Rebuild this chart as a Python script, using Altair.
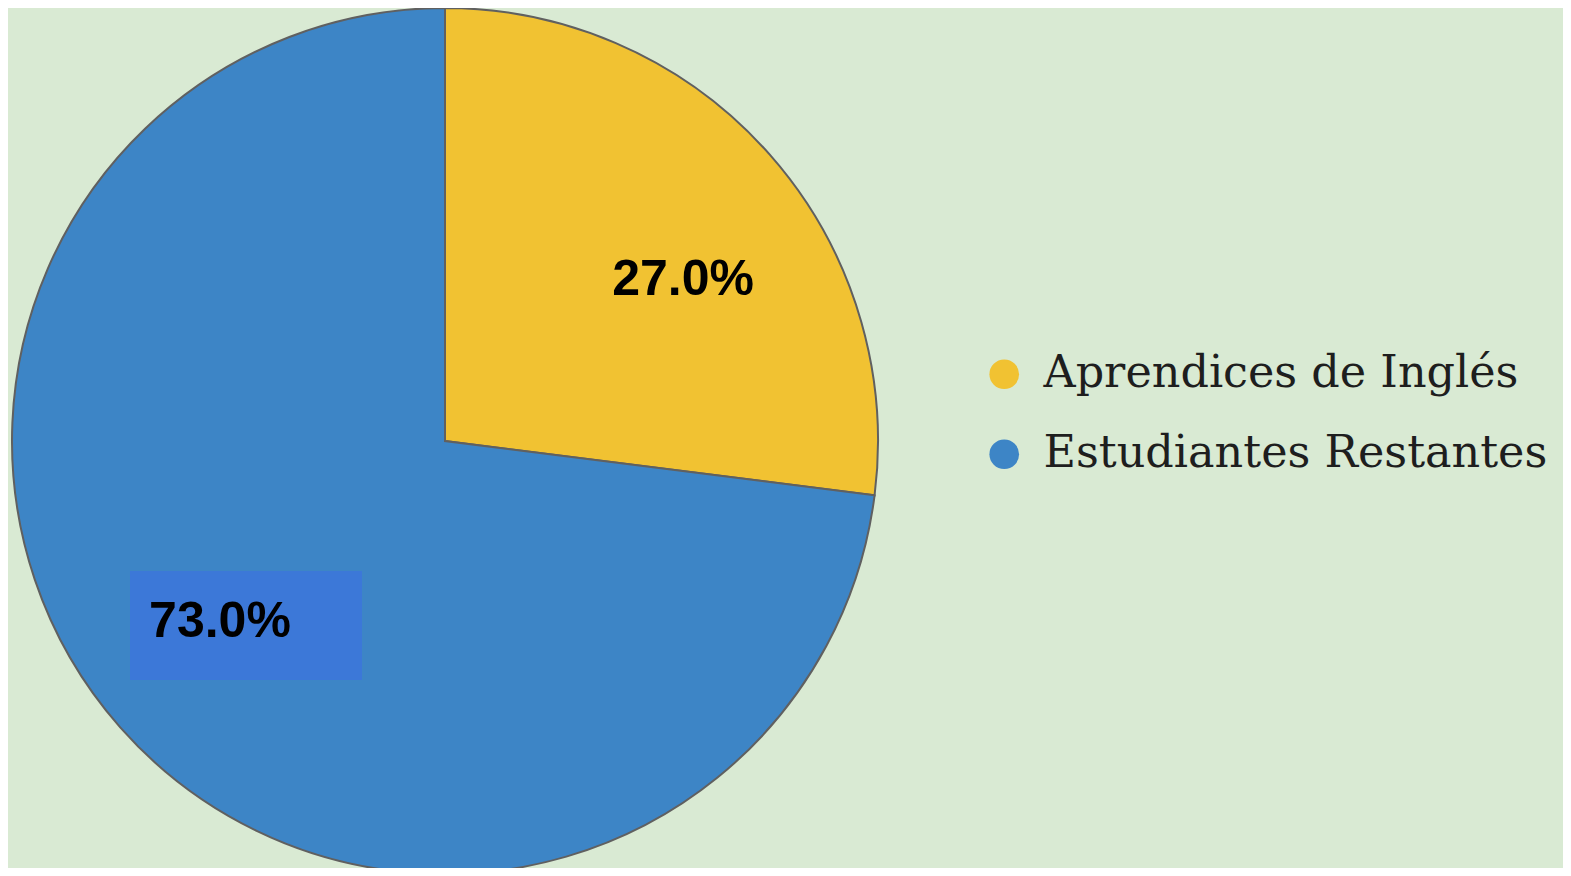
import altair as alt
import pandas as pd

categories = ["Aprendices de Inglés", "Estudiantes Restantes"]
values = [27.0, 73.0]
labels = ["27.0%", "73.0%"]
colors = ["#f1c232", "#3d85c6"]

df = pd.DataFrame({"cat": categories, "val": values, "label": labels, "ord": [0, 1]})

CX, CY, R = 437, 433, 433

base = alt.Chart(df)

theta_scale = alt.Scale(domain=[0, 100])

arc = base.mark_arc(stroke="#606060", strokeWidth=2, radius=R).encode(
    theta=alt.Theta("val:Q", stack=True, scale=theta_scale),
    color=alt.Color(
        "cat:N",
        scale=alt.Scale(domain=categories, range=colors),
        legend=alt.Legend(
            title=None,
            orient="none",
            legendX=974,
            legendY=344,
            padding=0,
            symbolType="circle",
            symbolSize=880,
            symbolStrokeWidth=0,
            labelFont="DejaVu Serif",
            labelFontSize=44.5,
            labelColor="#1e1e1e",
            labelOffset=17,
            rowPadding=35,
            labelLimit=0,
        ),
    ),
    order=alt.Order("ord:Q"),
    x=alt.value(CX),
    y=alt.value(CY),
)

highlight = base.mark_rect(color="#3c78d8").encode(
    x=alt.value(122), x2=alt.value(354), y=alt.value(563), y2=alt.value(672)
).transform_filter(alt.datum.ord == 1)

lab_base = base.transform_window(
    cum="sum(val)", sort=[alt.SortField("ord")]
).transform_calculate(mid="datum.cum - datum.val / 2")

def label_layer(idx, dx, dy):
    return lab_base.transform_filter(alt.datum.ord == idx).mark_text(
        font="Liberation Sans", fontWeight="bold", fontSize=50, color="#000000",
        radius=288, dx=dx, dy=dy, align="center", baseline="middle",
    ).encode(
        theta=alt.Theta("mid:Q", stack=None, scale=theta_scale),
        text="label:N",
        x=alt.value(CX),
        y=alt.value(CY),
    )

chart = alt.layer(
    arc, highlight, label_layer(0, 22, 29), label_layer(1, -9, -9)
).properties(
    width=1555, height=860, autosize="none", padding=0, background="#d9ead3"
).configure_view(stroke=None)

chart.save("out.html", embed_options={"renderer": "svg", "actions": False})
